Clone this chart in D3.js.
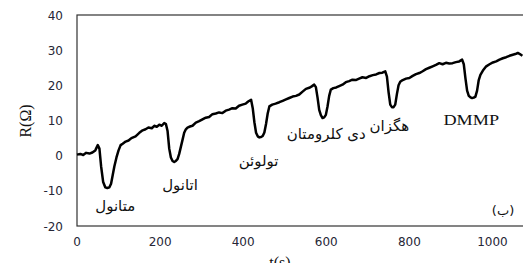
<!DOCTYPE html>
<html>
<head>
<meta charset="utf-8">
<script src="https://cdn.jsdelivr.net/npm/d3@7"></script>
<style>
  body { margin: 0; background: #fff; }
  svg { display: block; }
</style>
</head>
<body>
<div id="chart"></div>
<script>
// sensor response, time in s and resistance change in ohm
var times = [0,8,15,22,30,37,44,50,54,58,63,68,73,78,82,86,90,95,100,105,110,117,124,131,141,150,158,165,172,180,186,192,198,204,210,214,218,222,226,230,234,238,242,246,250,254,258,262,266,272,278,286,294,302,310,318,326,334,342,350,358,366,374,382,390,398,406,412,419,423,427,431,435,439,443,447,451,455,459,463,470,478,487,495,503,511,519,527,535,543,551,559,565,571,575,579,583,587,591,595,599,603,607,611,617,624,631,639,647,655,663,671,679,687,696,704,712,720,728,735,742,746,750,754,758,762,766,770,774,778,784,792,800,808,816,824,832,840,848,856,864,872,880,888,896,904,912,920,927,931,935,939,943,947,951,955,959,963,967,971,977,985,993,1001,1009,1017,1025,1033,1041,1049,1055,1061,1066,1072];
var resist = [0.3,0.5,0.2,0.8,0.6,0.9,1.5,3.0,2.0,-3,-7.5,-9,-9.2,-9,-8,-5.5,-3,-0.5,1.5,3.0,3.4,4.0,4.3,5.0,5.5,6.5,7.2,7.5,8.0,7.8,8.5,8.2,8.8,8.5,9.3,9.0,7,2,-0.5,-1.5,-1.8,-1.5,-1.0,0.5,2.5,4.5,6.5,7.5,8.0,8.3,8.5,9.4,9.8,10.3,10.8,11.0,11.8,12.0,12.3,12.1,12.8,13.1,13.5,13.4,14.2,14.5,14.8,15.4,15.9,13.5,9.5,6.5,5.5,5.2,5.3,5.6,6.6,9.0,12.0,14.0,14.5,14.8,15.2,15.6,16.0,16.4,16.8,17.0,17.4,18.2,19.0,19.3,19.7,20.2,19.5,16.5,13.0,11.5,10.7,10.9,11.6,14.0,17.0,18.8,19.2,19.4,19.8,20.2,20.9,21.2,21.6,21.5,21.9,22.3,22.1,22.6,22.9,23.1,23.5,23.6,24.0,22.5,18.0,14.5,13.8,13.8,14.5,17.5,20.0,21.0,21.5,21.9,22.1,22.7,23.2,23.5,24.0,24.6,25.0,25.4,25.8,26.3,26.0,26.4,26.2,26.3,26.6,26.8,27.3,26.0,22.0,18.5,17.0,16.6,16.4,16.5,16.8,18.5,21.5,23.0,24.2,25.4,26.0,26.5,26.8,27.3,27.7,28.0,28.4,28.7,28.9,29.2,28.9,28.4];

var xTicks = [0, 200, 400, 600, 800, 1000];
var yTicks = [-20, -10, 0, 10, 20, 30, 40];

// gas labels placed at (t, R)
var gasNames = ["متانول", "اتانول", "تولوئن", "دی کلرومتان", "هگزان", "DMMP"];
var gasT = [92, 248, 437, 600, 752, 949];
var gasR = [-15.6, -9.7, -2.9, 4.8, 7.0, 8.8];

var width = 523, height = 263;
var plotLeft = 77, plotTop = 15, plotBottom = 226;

var svg = d3.select("#chart").append("svg")
  .attr("width", width)
  .attr("height", height);

var x = d3.scaleLinear().domain([0, 1100]).range([plotLeft, plotLeft + 457]);
var y = d3.scaleLinear().domain([-20, 40]).range([plotBottom, plotTop]);

// frame
svg.append("rect")
  .attr("x", plotLeft).attr("y", plotTop)
  .attr("width", 457).attr("height", plotBottom - plotTop)
  .attr("fill", "none")
  .attr("stroke", "#333")
  .attr("stroke-width", 1.2);

svg.selectAll(".ytick")
  .data(yTicks)
  .enter().append("text")
  .attr("class", "ytick")
  .attr("x", 63)
  .attr("y", function (d) { return y(d) + 4.5; })
  .attr("text-anchor", "end")
  .attr("font-family", "DejaVu Sans")
  .attr("font-size", 12)
  .attr("fill", "#262636")
  .text(function (d) { return d; });

svg.selectAll(".xtick")
  .data(xTicks)
  .enter().append("text")
  .attr("class", "xtick")
  .attr("x", function (d) { return x(d); })
  .attr("y", 246)
  .attr("text-anchor", "middle")
  .attr("font-family", "DejaVu Sans")
  .attr("font-size", 12)
  .attr("fill", "#262636")
  .text(function (d) { return d; });

svg.append("text")
  .attr("transform", "translate(31," + 121 + ") rotate(-90)")
  .attr("text-anchor", "middle")
  .attr("font-family", "Liberation Serif")
  .attr("font-size", 16)
  .attr("fill", "#111")
  .text("R(Ω)");

svg.append("text")
  .attr("x", 280)
  .attr("y", 268)
  .attr("text-anchor", "middle")
  .attr("font-family", "Liberation Serif")
  .attr("font-size", 16)
  .attr("fill", "#111")
  .text("t(s)");

var line = d3.line()
  .x(function (d, i) { return x(times[i]); })
  .y(function (d) { return y(d); });

svg.append("path")
  .datum(resist)
  .attr("d", line)
  .attr("fill", "none")
  .attr("stroke", "#000")
  .attr("stroke-width", 2.5)
  .attr("stroke-linejoin", "round");

svg.selectAll(".gas")
  .data(gasNames)
  .enter().append("text")
  .attr("class", "gas")
  .attr("transform", function (d, i) {
    var s = d == "DMMP" ? " scale(1.3,1)" : "";
    return "translate(" + x(gasT[i]) + "," + y(gasR[i]) + ")" + s;
  })
  .attr("text-anchor", "middle")
  .attr("font-family", function (d) { return d == "DMMP" ? "Liberation Serif" : "DejaVu Sans"; })
  .attr("font-size", function (d) { return d == "DMMP" ? 14 : 15; })
  .attr("fill", "#111")
  .text(function (d) { return d; });

svg.append("text")
  .attr("x", 503)
  .attr("y", 215)
  .attr("text-anchor", "middle")
  .attr("font-family", "DejaVu Sans")
  .attr("font-size", 13)
  .attr("fill", "#111")
  .text("(ب)");
</script>
</body>
</html>
